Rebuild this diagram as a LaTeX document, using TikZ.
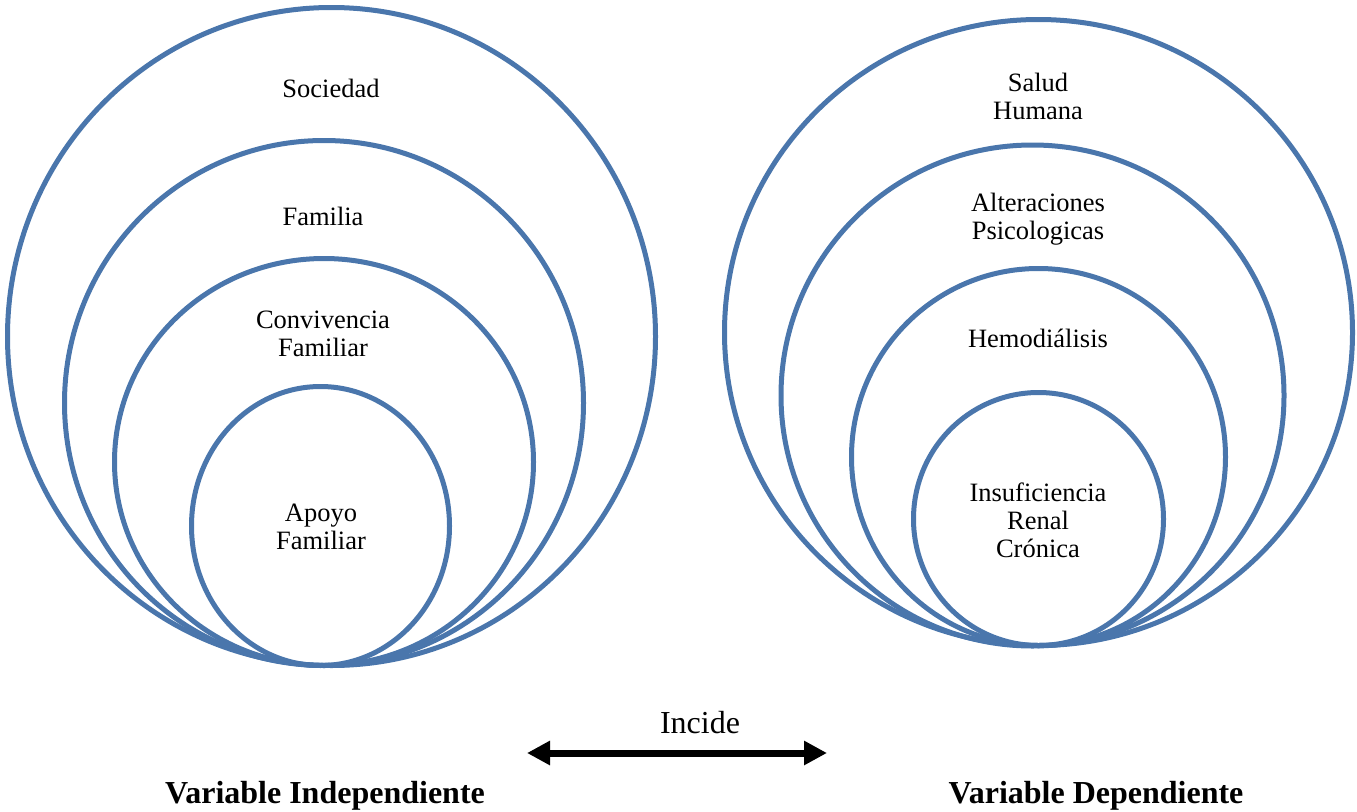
\documentclass[tikz,border=0pt]{standalone}
\usepackage{fontspec}
\setmainfont{Liberation Serif}
\usetikzlibrary{shapes.geometric,arrows.meta}
\definecolor{ringblue}{HTML}{4A76AC}
\begin{document}
\begin{tikzpicture}[x=1pt,y=-1pt,
  ring/.style={draw=ringblue, line width=5pt, ellipse, inner sep=0pt},
  lbl/.style={align=center, font=\fontsize{26.5}{28}\selectfont, inner sep=0pt},
  varlbl/.style={font=\fontsize{32}{36}\selectfont\bfseries, inner sep=0pt},
  link/.style={line width=7pt, {Triangle[width=23pt,length=23pt]}-{Triangle[width=23pt,length=23pt]}}]
\useasboundingbox (0,0) rectangle (1357,811);

% independent variable rings
\node[ring, minimum width=648pt, minimum height=658pt] (soc) at (331.5,336.5) {};
\node[ring, minimum width=519pt, minimum height=525pt] (fam) at (324,403) {};
\node[ring, minimum width=419pt, minimum height=407pt] (conv) at (324,462) {};
\node[ring, minimum width=258pt, minimum height=279pt] (apoyo) at (320.5,526) {};

\node[lbl] (tsoc) at (331,88) {Sociedad};
\node[lbl] (tfam) at (323,216) {Familia};
\node[lbl] (tconv) at (323,334) {Convivencia\\Familiar};
\node[lbl] (tapoyo) at (321,527) {Apoyo\\Familiar};

% dependent variable rings
\node[ring, minimum width=628pt, minimum height=626pt] (salud) at (1038.5,332.5) {};
\node[ring, minimum width=503pt, minimum height=501pt] (alt) at (1032.5,395.5) {};
\node[ring, minimum width=374pt, minimum height=377pt] (hemo) at (1038.5,457) {};
\node[ring, minimum width=250pt, minimum height=253pt] (irc) at (1038.5,519) {};

\node[lbl] (tsalud) at (1038,96) {Salud\\Humana};
\node[lbl] (talt) at (1038,219) {Alteraciones\\Psicologicas};
\node[lbl] (themo) at (1038,338) {Hemodiálisis};
\node[lbl] (tirc) at (1038,520) {Insuficiencia\\Renal\\Crónica};

% relation between both variables
\coordinate (la) at (527,753);
\coordinate (ra) at (827,753);
\draw[link] (la) -- (ra);
\node[font=\fontsize{32}{36}\selectfont, inner sep=0pt] (incide) at (700,723) {Incide};

\node[varlbl] (vi) at (325,796) {Variable Independiente};
\node[varlbl] (vd) at (1096,796) {Variable Dependiente};
\end{tikzpicture}
\end{document}
